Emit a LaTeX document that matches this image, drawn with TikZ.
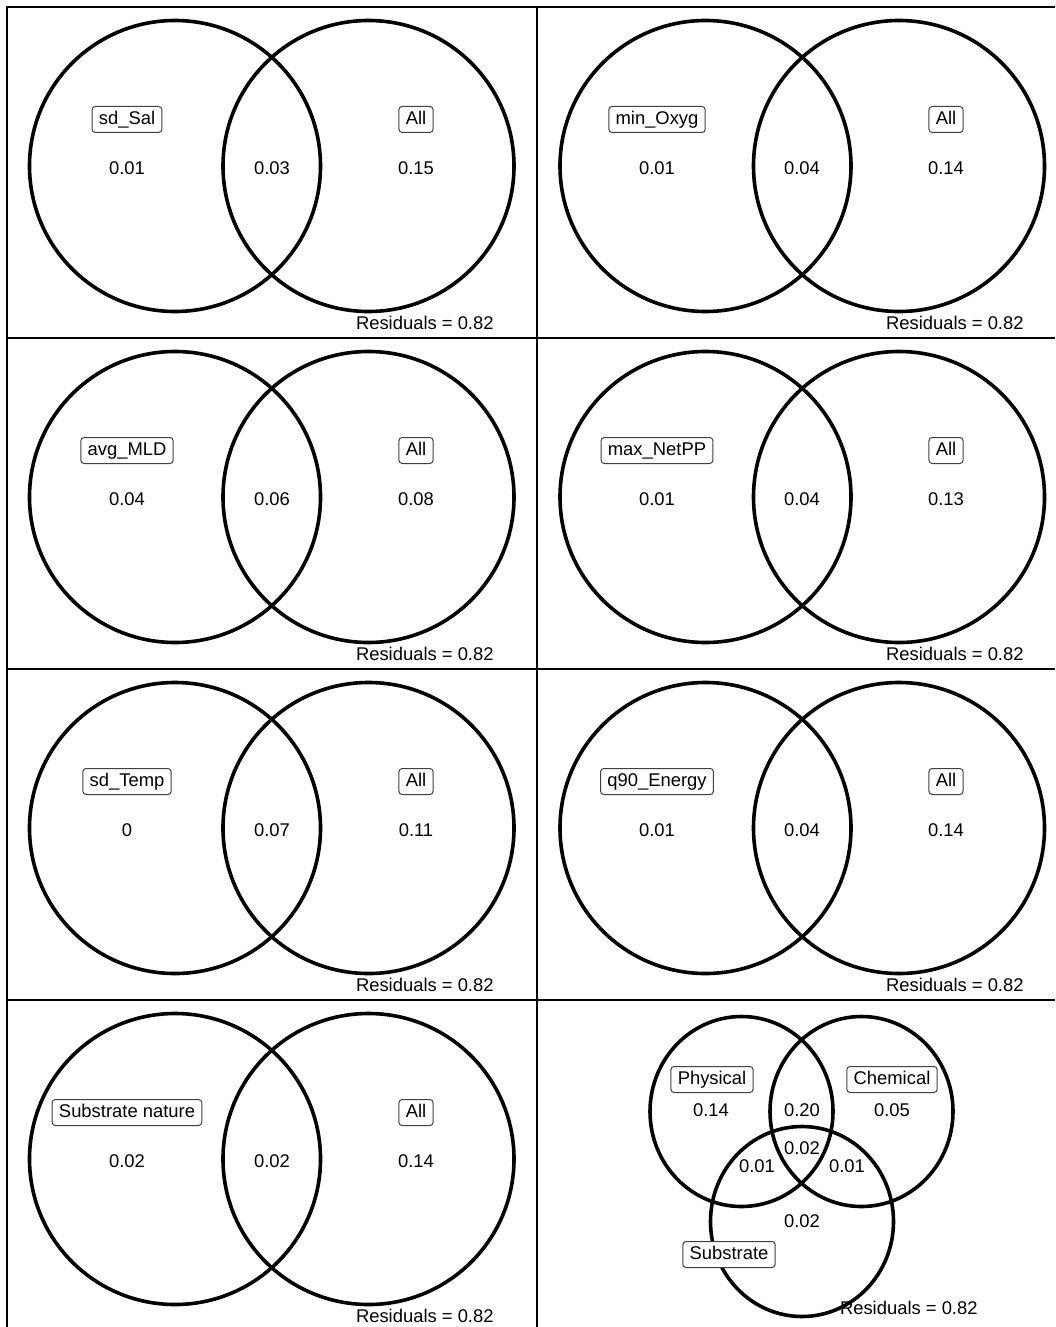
\documentclass[tikz,border=0pt]{standalone}
\usepackage{fontspec}
\setmainfont{Liberation Sans}

\tikzset{
  ring/.style={line width=1.8pt},
  frame/.style={line width=1pt},
  tag/.style={draw=black!75, fill=white, line width=0.5pt, rounded corners=1.6pt,
    inner xsep=3.4pt, inner ysep=1pt, minimum height=13pt,
    text height=6.6pt, text depth=1.9pt, font=\fontsize{9.2}{11}\selectfont},
  val/.style={inner sep=0pt, font=\fontsize{9.2}{11}\selectfont},
  resid/.style={inner sep=0pt, anchor=east, font=\fontsize{9.2}{11}\selectfont}
}

\begin{document}
\begin{tikzpicture}[x=0.5pt,y=-0.5pt]
\useasboundingbox (0,0) rectangle (1055,1327);

% panel grid
\coordinate (tl) at (7,7);
\coordinate (tr) at (1055,7);
\coordinate (bl) at (7,1327);
\coordinate (mt) at (537,7);
\coordinate (mb) at (537,1327);
\draw[frame] (bl) -- (tl) -- (tr);
\draw[frame] (mt) -- (mb);
\draw[frame] (7,337.5) -- (1055,337.5);
\draw[frame] (7,668.5) -- (1055,668.5);
\draw[frame] (7,999.5) -- (1055,999.5);

% row 1, left
\draw[ring] (175,166) circle (145.5);
\draw[ring] (368.5,166) circle (145.5);
\node[tag] (sdsal) at (127,119.5) {sd\_Sal};
\node[tag] (alla) at (416,119.5) {All};
\node[val] (va1) at (127,168) {0.01};
\node[val] (va2) at (272,168) {0.03};
\node[val] (va3) at (416,168) {0.15};
\node[resid] (ra) at (494,323) {Residuals = 0.82};

% row 1, right
\draw[ring] (705.5,166) circle (145.5);
\draw[ring] (899,166) circle (145.5);
\node[tag] (minoxyg) at (657,119.5) {min\_Oxyg};
\node[tag] (allb) at (946,119.5) {All};
\node[val] (vb1) at (657,168) {0.01};
\node[val] (vb2) at (802,168) {0.04};
\node[val] (vb3) at (946,168) {0.14};
\node[resid] (rb) at (1024,323) {Residuals = 0.82};

% row 2, left
\draw[ring] (175,497) circle (145.5);
\draw[ring] (368.5,497) circle (145.5);
\node[tag] (avgmld) at (127,450.5) {avg\_MLD};
\node[tag] (allc) at (416,450.5) {All};
\node[val] (vc1) at (127,499) {0.04};
\node[val] (vc2) at (272,499) {0.06};
\node[val] (vc3) at (416,499) {0.08};
\node[resid] (rc) at (494,654) {Residuals = 0.82};

% row 2, right
\draw[ring] (705.5,497) circle (145.5);
\draw[ring] (899,497) circle (145.5);
\node[tag] (maxnetpp) at (657,450.5) {max\_NetPP};
\node[tag] (alld) at (946,450.5) {All};
\node[val] (vd1) at (657,499) {0.01};
\node[val] (vd2) at (802,499) {0.04};
\node[val] (vd3) at (946,499) {0.13};
\node[resid] (rd) at (1024,654) {Residuals = 0.82};

% row 3, left
\draw[ring] (175,828) circle (145.5);
\draw[ring] (368.5,828) circle (145.5);
\node[tag] (sdtemp) at (127,781.5) {sd\_Temp};
\node[tag] (alle) at (416,781.5) {All};
\node[val] (ve1) at (127,830) {0};
\node[val] (ve2) at (272,830) {0.07};
\node[val] (ve3) at (416,830) {0.11};
\node[resid] (re) at (494,985) {Residuals = 0.82};

% row 3, right
\draw[ring] (705.5,828) circle (145.5);
\draw[ring] (899,828) circle (145.5);
\node[tag] (qenergy) at (657,781.5) {q90\_Energy};
\node[tag] (allf) at (946,781.5) {All};
\node[val] (vf1) at (657,830) {0.01};
\node[val] (vf2) at (802,830) {0.04};
\node[val] (vf3) at (946,830) {0.14};
\node[resid] (rf) at (1024,985) {Residuals = 0.82};

% row 4, left
\draw[ring] (175,1159) circle (145.5);
\draw[ring] (368.5,1159) circle (145.5);
\node[tag] (substnat) at (127,1112.5) {Substrate nature};
\node[tag] (allg) at (416,1112.5) {All};
\node[val] (vg1) at (127,1161) {0.02};
\node[val] (vg2) at (272,1161) {0.02};
\node[val] (vg3) at (416,1161) {0.14};
\node[resid] (rg) at (494,1316) {Residuals = 0.82};

% row 4, right: three groups
\draw[ring] (741.5,1111.5) ellipse (91.5 and 95);
\draw[ring] (861.5,1111.5) ellipse (91.5 and 95);
\draw[ring] (802,1221.5) ellipse (91.5 and 95);
\node[tag] (physical) at (712,1079.5) {Physical};
\node[tag] (chemical) at (892,1079.5) {Chemical};
\node[tag] (substrate) at (729,1254.5) {Substrate};
\node[val] (vh1) at (711,1110) {0.14};
\node[val] (vh2) at (802,1110) {0.20};
\node[val] (vh3) at (892,1110) {0.05};
\node[val] (vh4) at (802,1148) {0.02};
\node[val] (vh5) at (757,1166) {0.01};
\node[val] (vh6) at (847,1166) {0.01};
\node[val] (vh7) at (802,1221) {0.02};
\node[resid] (rh) at (978,1308) {Residuals = 0.82};
\end{tikzpicture}
\end{document}
